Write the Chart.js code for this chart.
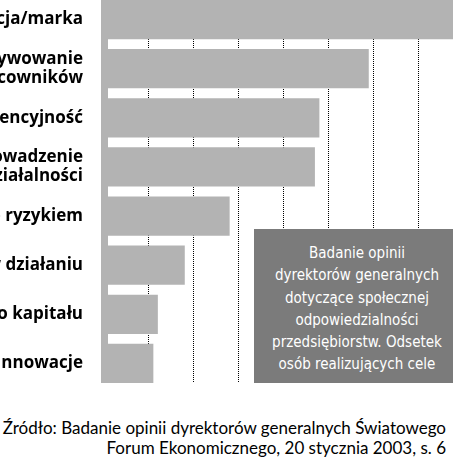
<!DOCTYPE html>
<html>
<head>
<meta charset="utf-8">
<script src="https://cdn.jsdelivr.net/npm/chart.js@4.4.1/dist/chart.umd.min.js"></script>
<style>
  html, body { margin: 0; padding: 0; background: #fff; width: 453px; height: 463px; overflow: hidden; }
  #plot { position: absolute; left: 0; top: 0; width: 453px; height: 383px; overflow: hidden; }
  #plot canvas { position: absolute; left: -200px; top: -25px; }
  #note {
    position: absolute; left: 254px; top: 229px; width: 206px; height: 154px;
    box-sizing: border-box; padding-top: 13px;
    background: #7b7b7b; color: #fff; text-align: center;
    font: 15px "Liberation Sans Narrow", "DejaVu Sans Condensed", sans-serif;
    line-height: 22.3px;
  }
  #source {
    position: absolute; right: 7px; top: 418px; text-align: right; white-space: nowrap;
    font: 17px Lato, sans-serif; line-height: 20px; color: #000;
  }
</style>
</head>
<body>
<div id="plot"><canvas id="chart" width="663" height="433"></canvas></div>
<div id="note">Badanie opinii<br>dyrektorów generalnych<br>dotyczące społecznej<br>odpowiedzialności<br>przedsiębiorstw. Odsetek<br>osób realizujących cele</div>
<div id="source">Źródło: Badanie opinii dyrektorów generalnych Światowego<br>Forum Ekonomicznego, 20 stycznia 2003, s. 6</div>
<script>
// cele (etykiety sa uciete z lewej strony, jak w oryginale)
const categories = [
  'Reputacja/marka',
  ['Przyciąganie i motywowanie', 'pracowników'],
  'Konkurencyjność',
  ['Licencja na prowadzenie', 'działalności'],
  'Zarządzanie ryzykiem',
  'Efektywność w działaniu',
  'Dostęp do kapitału',
  'Innowacje'
];
// odsetek osob (%)
const values = [79, 59, 48, 47, 28, 18, 12, 11];
const xMin = 0;
const xMax = 80;
const xStep = 10;

const canvas = document.getElementById('chart');

new Chart(canvas, {
  type: 'bar',
  data: {
    labels: categories,
    datasets: [
      {
        data: values,
        backgroundColor: '#b3b3b3',
        borderWidth: 0,
        categoryPercentage: 1,
        barPercentage: 0.8
      }
    ]
  },
  options: {
    indexAxis: 'y',
    responsive: false,
    animation: false,
    layout: { padding: { top: 20, bottom: 20, left: 0, right: 0 } },
    plugins: { legend: { display: false }, tooltip: { enabled: false } },
    scales: {
      x: {
        min: xMin,
        max: xMax,
        ticks: { display: false, stepSize: xStep },
        grid: {
          drawTicks: false,
          lineWidth: 1,
          color: ctx => (ctx.tick && ctx.tick.value === 0) ? 'rgba(0,0,0,0)' : '#000'
        },
        border: { display: false, dash: [1, 1] }
      },
      y: {
        offset: true,
        afterFit: scale => { scale.width = 304; },
        grid: { display: false, drawTicks: true, tickLength: 21, tickColor: 'rgba(0,0,0,0)' },
        border: { display: true, color: '#b3b3b3', width: 7 },
        ticks: {
          padding: 0,
          color: '#000',
          font: { family: 'Open Sans', weight: 'bold', size: 17, lineHeight: 1.1 }
        }
      }
    }
  }
});
</script>
</body>
</html>
